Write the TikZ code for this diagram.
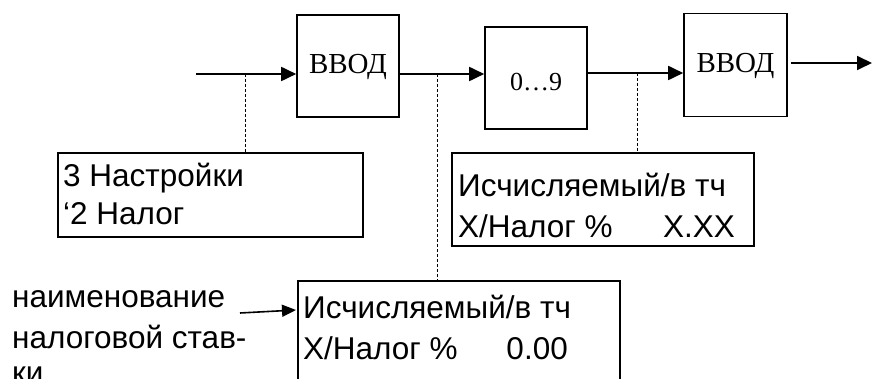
\documentclass[tikz,border=0pt]{standalone}
\usepackage{fontspec}
\setmainfont{Liberation Serif}
\newfontfamily\arialf{Liberation Sans}
\usetikzlibrary{arrows.meta}
\begin{document}
\begin{tikzpicture}[x=1pt,y=-1pt,
  blk/.style={draw,line width=1.6pt,inner sep=0pt},
  lcd/.style={draw,line width=1.6pt,inner sep=0pt},
  txt/.style={inner sep=0pt,font=\arialf\fontsize{31.5}{36}\selectfont},
  flow/.style={line width=1.8pt,-{Triangle[length=15pt,width=14pt]}},
  lead/.style={line width=1pt,dash pattern=on 3pt off 2pt}]
\useasboundingbox (0,0) rectangle (872,379);
% top blocks
\node[blk,minimum width=102pt,minimum height=102pt] (b1) at (348,66) {};
\node[font=\fontsize{29}{33}\selectfont,inner sep=0pt] (t1) at (348,67) {ВВОД};
\node[blk,minimum width=102pt,minimum height=102pt] (b2) at (536,78) {};
\node[font=\fontsize{26}{30}\selectfont,inner sep=0pt] (t2) at (536,82) {0…9};
\node[blk,minimum width=103pt,minimum height=103pt] (b3) at (735.5,65) {};
\node[font=\fontsize{29}{33}\selectfont,inner sep=0pt] (t3) at (735.5,66) {ВВОД};
% arrows
\coordinate (in) at (196,74);
\coordinate (a2) at (0,74);
\coordinate (a3) at (0,73);
\coordinate (a4) at (0,63);
\coordinate (out) at (872,63);
\draw[flow] (in) -- (b1.west |- in);
\draw[flow] (b1.east |- a2) -- (b2.west |- a2);
\draw[flow] (b2.east |- a3) -- (b3.west |- a3);
\draw[flow] (b3.east |- a4) ++(3,0) coordinate (o4) (o4) -- (out);
% display boxes
\draw[lcd] (58,153) rectangle (363,237);
\node[txt,anchor=base west] (d1l1) at (63,187) {3 Настройки};
\node[txt,anchor=base west] (d1l2) at (63,225) {‘2 Налог};
\draw[lcd] (452,153) rectangle (754,246);
\node[txt,anchor=base west] (d2l1) at (458,197) {Исчисляемый/в тч};
\node[txt,anchor=base west] (d2l2) at (458,237) {X/Налог \%};
\node[txt,anchor=base east] (d2v) at (735,237) {X.XX};
\draw[lcd] (620,400) -- (620,281) -- (298,281) -- (298,400);
\node[txt,anchor=base west] (d3l1) at (303,318) {Исчисляемый/в тч};
\node[txt,anchor=base west] (d3l2) at (303,359) {X/Налог \%};
\node[txt,anchor=base east] (d3v) at (568,359) {0.00};
% leaders
\coordinate (p1) at (245,74);
\coordinate (q1) at (245,153);
\coordinate (p2) at (437,74);
\coordinate (q2) at (437,281);
\coordinate (p3) at (637,73);
\coordinate (q3) at (637,153);
\draw[lead] (p1) -- (q1);
\draw[lead] (p2) -- (q2);
\draw[lead] (p3) -- (q3);
% left label
\node[txt,anchor=base west] (lab1) at (12,307) {наименование};
\node[txt,anchor=base west] (lab2) at (12,348) {налоговой став-};
\node[txt,anchor=base west] (lab3) at (12,383) {ки};
\coordinate (ls) at (240,313);
\coordinate (le) at (296,310);
\draw[line width=1.6pt,-{Triangle[length=14pt,width=12pt]}] (ls) -- (le);
\end{tikzpicture}
\end{document}
